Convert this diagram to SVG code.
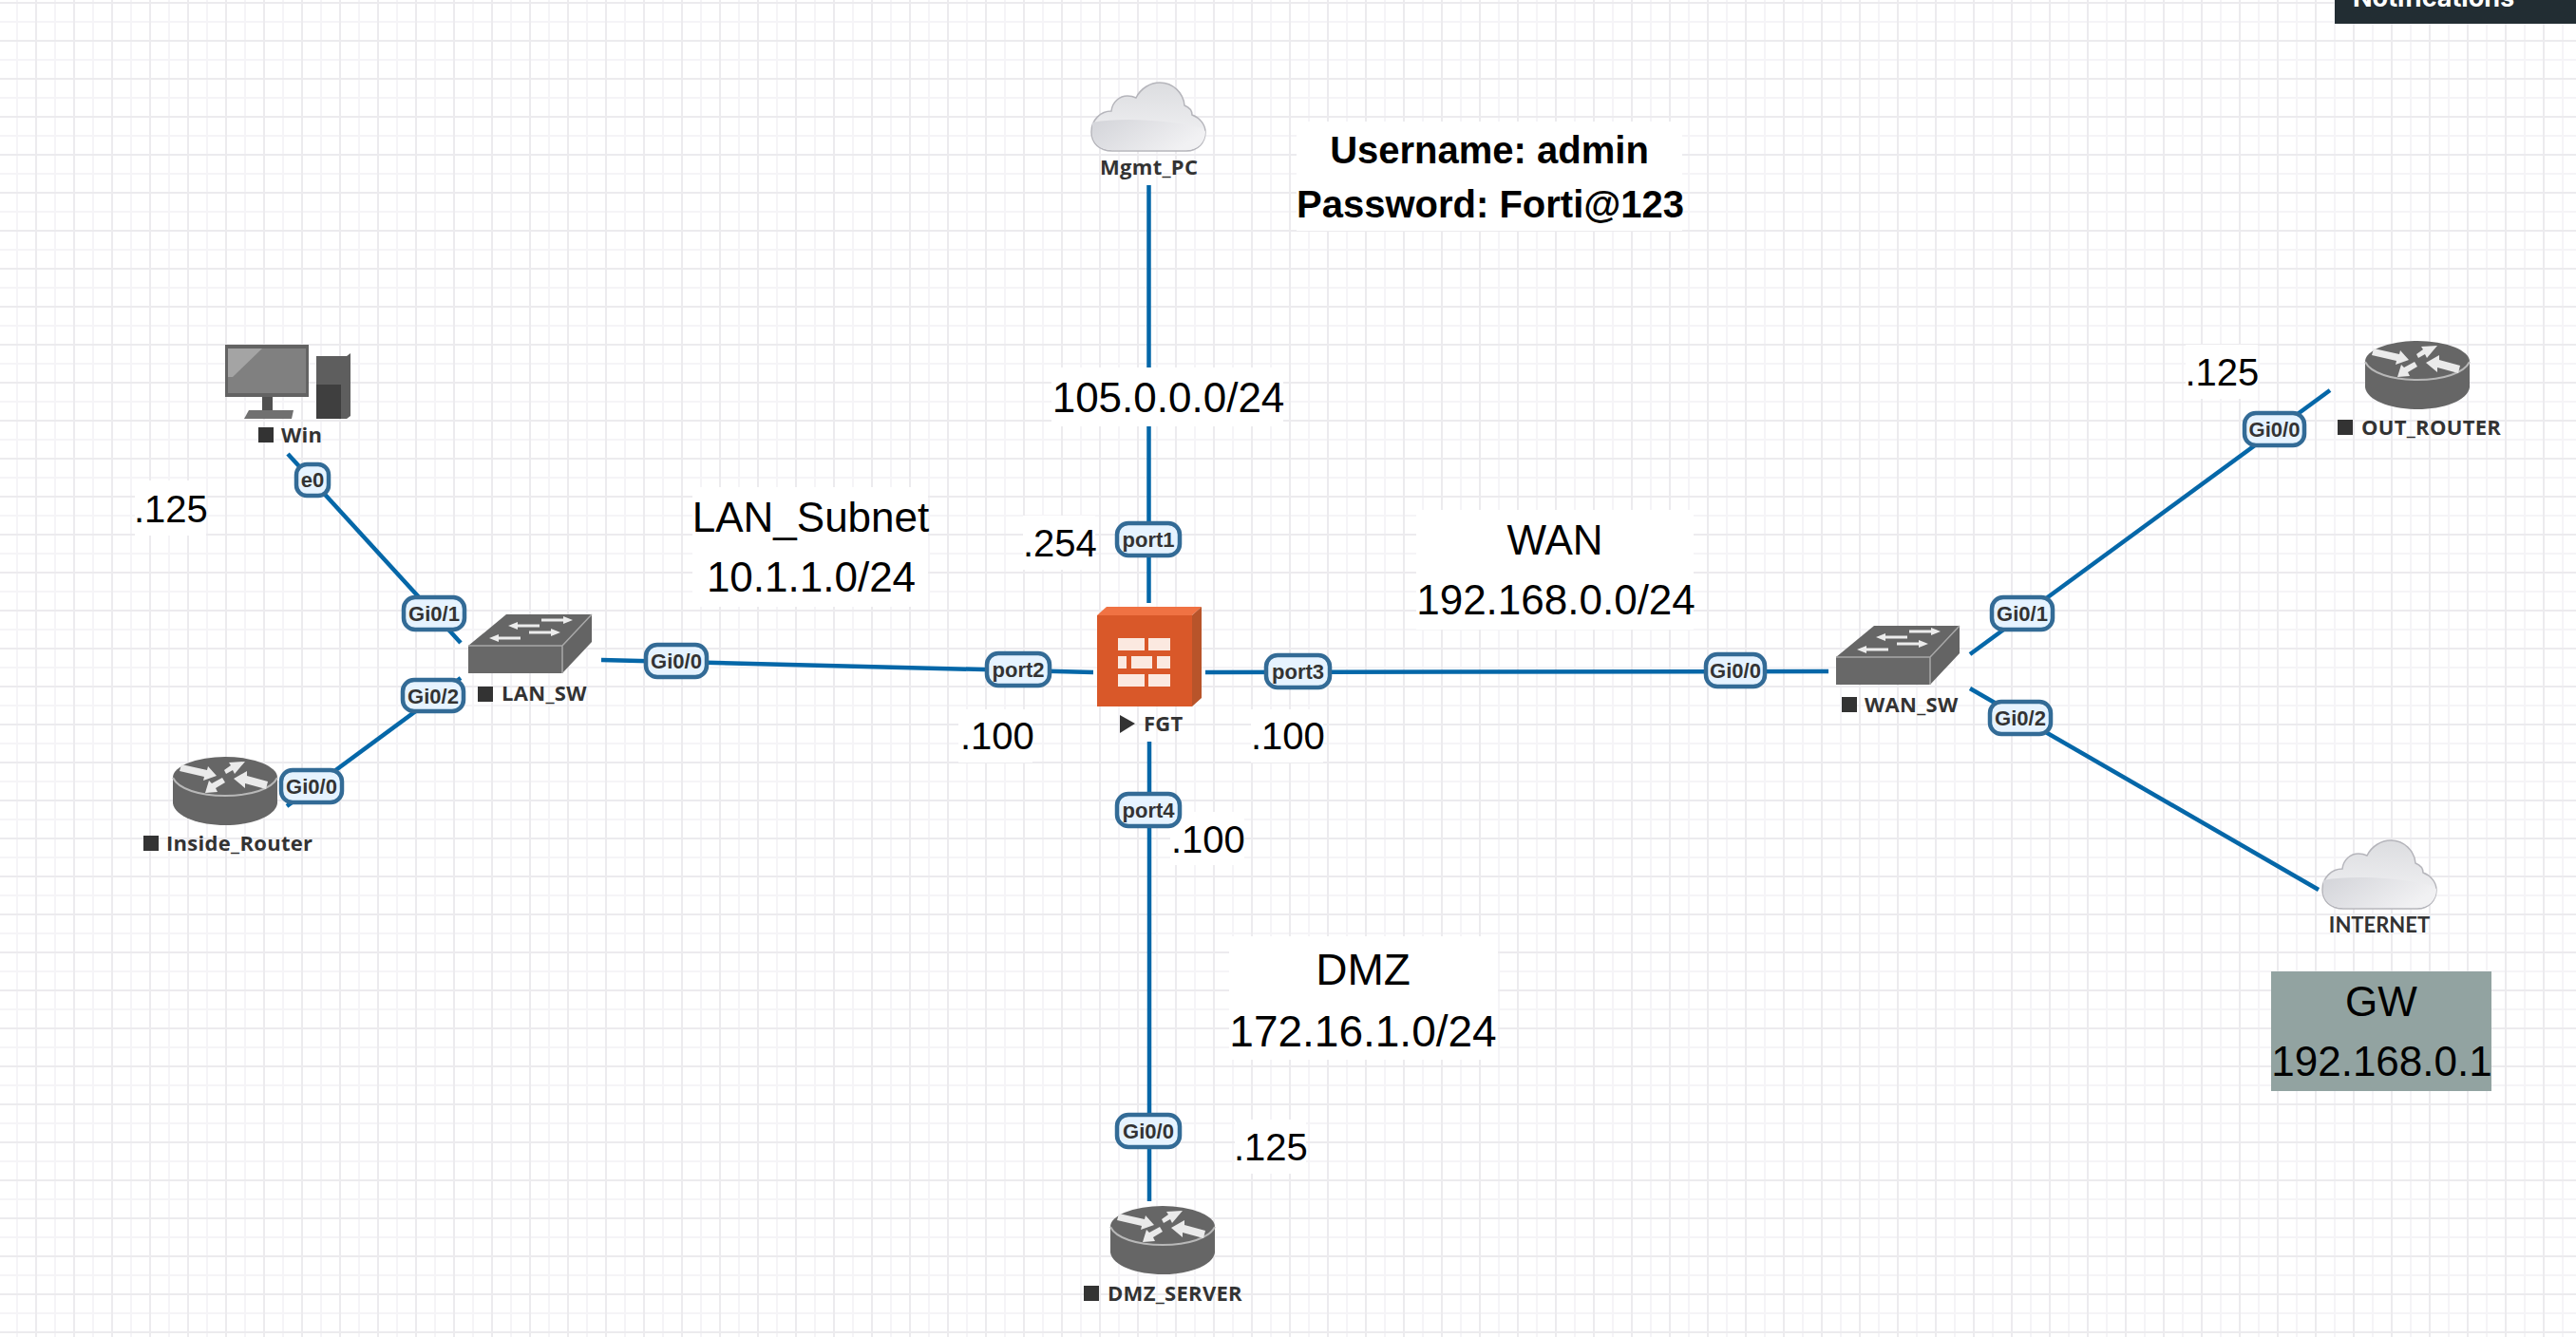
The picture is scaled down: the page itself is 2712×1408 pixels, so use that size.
<svg xmlns="http://www.w3.org/2000/svg" width="2712" height="1408" viewBox="0 0 2712 1408">
<style>
.big{font-family:"Liberation Sans",Arial,sans-serif;font-size:44px;fill:#000}
.ip{font-family:"Liberation Sans",Arial,sans-serif;font-size:40px;fill:#000}
.cred{font-family:"Liberation Sans",Arial,sans-serif;font-size:40px;font-weight:700;fill:#000;text-anchor:middle}
.mid{text-anchor:middle}
.nm{font-family:"Open Sans",sans-serif;font-size:22px;font-weight:700;fill:#333;letter-spacing:.3px}
.pl rect{fill:#e6f3ff;stroke:#336b96;stroke-width:4.5}
.pl text{font-family:"Liberation Sans",Arial,sans-serif;font-size:22px;font-weight:700;fill:#333;text-anchor:middle}
.bg{fill:#fff}
.sq{fill:#333}
#connectors line{stroke:#0567a8;stroke-width:4.5;fill:none}
</style>
<defs>
<pattern id="grid" width="40" height="40" patternUnits="userSpaceOnUse">
<rect width="40" height="40" fill="#fff"/>
<rect x="17" width="2" height="40" fill="#f5f4f7"/>
<rect y="22" width="40" height="2" fill="#f5f4f7"/>
<rect x="37" width="2" height="40" fill="#ecebee"/>
<rect y="2" width="40" height="2" fill="#ecebee"/>
</pattern>
<linearGradient id="cu" x1="0" y1="0" x2="0" y2="1"><stop offset="0" stop-color="#dcdde0"/><stop offset="1" stop-color="#f4f4f6"/></linearGradient>
<linearGradient id="cl" x1="0" y1="0" x2="1" y2="0.4"><stop offset="0" stop-color="#d3d4d9"/><stop offset="1" stop-color="#f1f1f3"/></linearGradient>
<g id="router">
<path d="M0,22 L0,49 C2,63 28,72 55,72 C82,72 108,63 110,49 L110,22 Z" fill="#666"/>
<ellipse cx="55" cy="22" rx="55" ry="22" fill="#666"/>
<path d="M0,22 C6,34 28,41 55,41 C82,41 104,34 110,22" fill="none" stroke="#b8b8b8" stroke-width="2"/>
<g fill="#eaeaea">
<polygon points="9,8 36,14 37,10 46,20 32,25 33,21 7,15"/>
<polygon points="76,5 65,18 63,14 56,18 54,14 61,9 59,6"/>
<polygon points="34,38 38,25 41,28 52,22 55,27 45,33 47,37"/>
<polygon points="64,23 78,15 78,20 100,26 98,34 76,28 76,33"/>
</g>
</g>
<g id="switch">
<polygon points="0,33 40,0 130,0 99,33" fill="#666"/>
<polygon points="99,33 130,0 130,29 99,62" fill="#646464"/>
<rect y="33" width="99" height="29" fill="#686868"/>
<path d="M0,33 H99 L130,0 M99,33 V62" fill="none" stroke="#a8a8a8" stroke-width="1.5"/>
<g fill="#ececec">
<polygon points="77,4.500 100,4.500 100,2 110,6 100,10 100,7.500 77,7.500"/>
<polygon points="75,10.500 52,10.500 52,8 42,12 52,16 52,13.500 75,13.500"/>
<polygon points="64,17.500 87,17.500 87,15 97,19 87,23 87,20.500 64,20.500"/>
<polygon points="55,23.500 32,23.500 32,21 22,25 32,29 32,26.500 55,26.500"/>
</g>
</g>
<g id="cloud">
<path d="M22,72 C8,72 0,63 0,52 C0,39 10,30 21,30 C22,20 30,14 38,14 C42,14 45,15 47,16 C52,6 62,0 72,0 C86,0 97,11 98,24 C103,26 106,30 106,34 C114,37 120,44 120,52 C120,63 112,72 100,72 Z" fill="url(#cu)" stroke="#b5b5bb" stroke-width="1.500"/>
<path d="M1,42 C35,36 85,40 117,48 C119,50 120,51 120,52 C120,63 112,71 100,71 L22,71 C8,71 1,63 1,52 Z" fill="url(#cl)"/>
</g>
</defs>

<rect id="background" width="2712" height="1408" fill="url(#grid)"/>

<g id="connectors">
<line x1="1209.500" y1="195" x2="1209.500" y2="635"/>
<line x1="1210" y1="781" x2="1210" y2="1265"/>
<line x1="633" y1="695" x2="1151" y2="708"/>
<line x1="1269" y1="708" x2="1925" y2="707"/>
<line x1="303" y1="478" x2="485" y2="677"/>
<line x1="485" y1="714" x2="302" y2="849"/>
<line x1="2074" y1="689" x2="2453" y2="411"/>
<line x1="2074" y1="725" x2="2441" y2="937"/>
</g>

<g id="notifications">
<rect x="2458" y="0" width="254" height="25" fill="#222d33"/>
<text x="2477" y="7" font-family="Inter, 'Liberation Sans', sans-serif" font-size="27" font-weight="700" fill="#fff">Notifications</text>
</g>

<g id="credentials">
<rect class="bg" x="1365" y="128" width="406" height="115"/>
<text class="cred" x="1568" y="172">Username: admin</text>
<text class="cred" x="1569" y="229">Password: Forti@123</text>
</g>
<g id="net-mgmt">
<rect class="bg" x="1107" y="387" width="244" height="62"/>
<text class="big mid" x="1230" y="434">105.0.0.0/24</text>
</g>
<g id="net-lan">
<rect class="bg" x="729" y="513" width="248" height="126"/>
<text class="big mid" x="853.500" y="560">LAN_Subnet</text>
<text class="big mid" x="854" y="623">10.1.1.0/24</text>
</g>
<g id="net-wan">
<rect class="bg" x="1491" y="537" width="292" height="126"/>
<text class="big mid" x="1637" y="584">WAN</text>
<text class="big mid" x="1638" y="647">192.168.0.0/24</text>
</g>
<g id="net-dmz">
<rect class="bg" x="1294" y="986" width="283" height="130"/>
<text class="big mid" style="font-size:46px" x="1435" y="1037">DMZ</text>
<text class="big mid" style="font-size:46px" x="1435" y="1102">172.16.1.0/24</text>
</g>
<g id="ip-win"><rect class="bg" x="142" y="506" width="75" height="58"/><text class="ip" x="141" y="550">.125</text></g>
<g id="ip-out"><rect class="bg" x="2301" y="363" width="76" height="57"/><text class="ip" x="2300.500" y="406">.125</text></g>
<g id="ip-dmz"><rect class="bg" x="1300" y="1179" width="75" height="57"/><text class="ip" x="1299" y="1222">.125</text></g>
<g id="ip-port1"><rect class="bg" x="1077" y="543" width="76" height="57"/><text class="ip" x="1077" y="586">.254</text></g>
<g id="ip-port2"><rect class="bg" x="1009" y="747" width="78" height="56"/><text class="ip" x="1011" y="789">.100</text></g>
<g id="ip-port3"><rect class="bg" x="1317" y="747" width="76" height="56"/><text class="ip" x="1317" y="789">.100</text></g>
<g id="ip-port4"><rect class="bg" x="1232" y="855" width="78" height="56"/><text class="ip" x="1233" y="898">.100</text></g>

<g id="gw">
<rect x="2391" y="1023" width="232" height="126" fill="#92a3a1"/>
<text class="big mid" x="2507" y="1070">GW</text>
<text class="big mid" x="2507.500" y="1133">192.168.0.1</text>
</g>

<g id="Mgmt_PC">
<use href="#cloud" x="1149" y="87"/>
<text class="nm" x="1158" y="184">Mgmt_PC</text>
</g>
<g id="FGT">
<polygon points="1155,648 1165,639 1265,639 1255,648" fill="#f07243"/>
<polygon points="1255,648 1265,639 1265,735 1255,744" fill="#b8542a"/>
<rect x="1155" y="648" width="100" height="96" fill="#d95829"/>
<g fill="#fbe9e0">
<rect x="1177" y="672" width="28" height="13"/><rect x="1209" y="672" width="23" height="13"/>
<rect x="1177" y="691" width="9" height="13"/><rect x="1191" y="691" width="22" height="13"/><rect x="1218" y="691" width="14" height="13"/>
<rect x="1177" y="710" width="28" height="13"/><rect x="1209" y="710" width="23" height="13"/>
</g>
<polygon class="sq" points="1179,753 1195,762 1179,772"/>
<text class="nm" x="1204" y="770">FGT</text>
</g>
<g id="Win">
<rect x="237" y="363" width="88" height="55" fill="#636363"/>
<rect x="240" y="367" width="82" height="47" fill="#808080"/>
<polygon points="240,367 276,367 245,397 240,397" fill="#a4a4a4"/>
<rect x="276" y="418" width="11" height="14" fill="#505050"/>
<polygon points="262,432 309,432 307,441 257,441" fill="#707070"/>
<polygon points="333,375 365,375 369,372 369,438 365,441 333,441" fill="#5e5e5e"/>
<rect x="333" y="405" width="26" height="36" fill="#3f3f3f"/>
<rect class="sq" x="272" y="450" width="16" height="16"/>
<text class="nm" x="296" y="466">Win</text>
</g>
<g id="LAN_SW">
<use href="#switch" x="493" y="647"/>
<rect class="sq" x="503" y="723" width="16" height="16"/>
<text class="nm" x="528" y="738">LAN_SW</text>
</g>
<g id="Inside_Router">
<use href="#router" x="182" y="797"/>
<rect class="sq" x="151" y="880" width="16" height="16"/>
<text class="nm" x="175" y="896">Inside_Router</text>
</g>
<g id="WAN_SW">
<use href="#switch" x="1933" y="659"/>
<rect class="sq" x="1939" y="734" width="16" height="16"/>
<text class="nm" x="1963" y="750">WAN_SW</text>
</g>
<g id="OUT_ROUTER">
<use href="#router" x="2490" y="359"/>
<rect class="sq" x="2461" y="442" width="16" height="16"/>
<text class="nm" x="2486" y="458">OUT_ROUTER</text>
</g>
<g id="INTERNET">
<use href="#cloud" x="2445" y="885"/>
<text x="2505" y="982" font-family="Lato, sans-serif" font-size="22" font-weight="700" fill="#333" text-anchor="middle">INTERNET</text>
</g>
<g id="DMZ_SERVER">
<use href="#router" x="1169" y="1270"/>
<rect class="sq" x="1141" y="1354" width="16" height="16"/>
<text class="nm" x="1166" y="1370">DMZ_SERVER</text>
</g>

<g id="port-labels" class="pl">
<g><rect x="1176" y="551" width="66" height="34" rx="12"/><text x="1209" y="576">port1</text></g>
<g><rect x="1039" y="688" width="66" height="34" rx="12"/><text x="1072" y="713">port2</text></g>
<g><rect x="1333" y="690" width="67" height="34" rx="12"/><text x="1366.500" y="715">port3</text></g>
<g><rect x="1176" y="836" width="66" height="34" rx="12"/><text x="1209" y="861">port4</text></g>
<g><rect x="680" y="679" width="64" height="34" rx="12"/><text x="712" y="704">Gi0/0</text></g>
<g><rect x="312" y="489" width="34" height="33" rx="11"/><text x="329" y="513">e0</text></g>
<g><rect x="425" y="629" width="64" height="34" rx="12"/><text x="457" y="654">Gi0/1</text></g>
<g><rect x="424" y="716" width="64" height="33" rx="12"/><text x="456" y="741">Gi0/2</text></g>
<g><rect x="296" y="811" width="64" height="34" rx="12"/><text x="328" y="836">Gi0/0</text></g>
<g><rect x="1796" y="689" width="62" height="34" rx="12"/><text x="1827" y="714">Gi0/0</text></g>
<g><rect x="2097" y="629" width="64" height="34" rx="12"/><text x="2129" y="654">Gi0/1</text></g>
<g><rect x="2095" y="739" width="64" height="34" rx="12"/><text x="2127" y="764">Gi0/2</text></g>
<g><rect x="2363" y="435" width="63" height="34" rx="12"/><text x="2394.500" y="460">Gi0/0</text></g>
<g><rect x="1176" y="1174" width="66" height="34" rx="12"/><text x="1209" y="1199">Gi0/0</text></g>
</g>
</svg>
